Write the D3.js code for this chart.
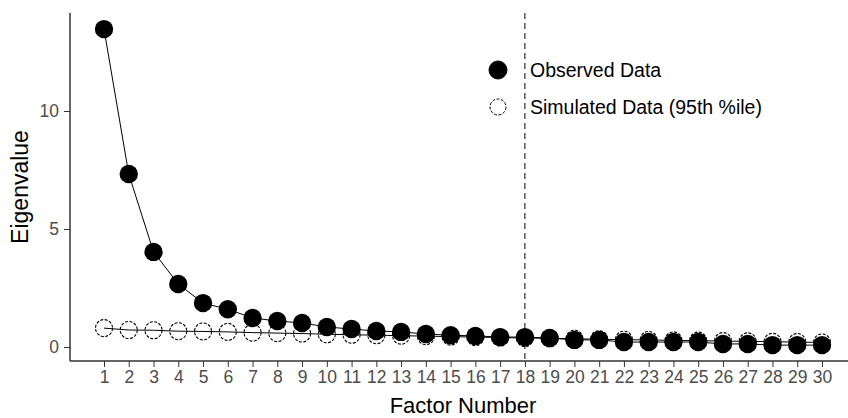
<!DOCTYPE html>
<html>
<head>
<meta charset="utf-8">
<script src="https://cdn.jsdelivr.net/npm/d3@7"></script>
<style>
  body { margin: 0; background: #fff; }
  svg { font-family: "Liberation Sans", Arial, sans-serif; }
</style>
</head>
<body>
<svg id="chart" width="848" height="418"></svg>
<script>
const factors = d3.range(1, 31);
const observed = [13.47, 7.33, 4.03, 2.67, 1.86, 1.6, 1.23, 1.1, 1.02, 0.85,
  0.76, 0.68, 0.64, 0.55, 0.5, 0.47, 0.42, 0.42, 0.38, 0.3,
  0.3, 0.21, 0.21, 0.21, 0.21, 0.13, 0.13, 0.08, 0.08, 0.08];
const simulated = [0.8, 0.72, 0.71, 0.67, 0.66, 0.64, 0.61, 0.59, 0.57, 0.54,
  0.52, 0.5, 0.48, 0.46, 0.44, 0.42, 0.4, 0.38, 0.37, 0.35,
  0.33, 0.31, 0.3, 0.28, 0.27, 0.25, 0.24, 0.22, 0.21, 0.19];
const yTicks = [0, 5, 10];
const cutoff = 18;
const legendLabels = ["Observed Data", "Simulated Data (95th %ile)"];

const svg = d3.select("#chart");
const plotL = 70, plotR = 848, plotT = 13, plotB = 361;

const x = d3.scaleLinear().domain([1, 30]).range([104, 822]);
const y = d3.scaleLinear().domain([0, 10]).range([347, 111]);

// axes
const xAxis = svg.append("g")
  .attr("transform", `translate(0,${plotB})`)
  .call(d3.axisBottom(x).tickValues(factors).tickSize(6).tickPadding(4).tickSizeOuter(0));
xAxis.select(".domain").remove();
svg.append("line").attr("x1", plotL).attr("x2", plotR).attr("y1", plotB).attr("y2", plotB)
  .attr("stroke", "#333").attr("stroke-width", 1.5);

const yAxis = svg.append("g")
  .attr("transform", `translate(${plotL},0)`)
  .call(d3.axisLeft(y).tickValues(yTicks).tickSize(6).tickPadding(5));
yAxis.select(".domain").remove();
svg.append("line").attr("x1", plotL).attr("x2", plotL).attr("y1", plotT).attr("y2", plotB)
  .attr("stroke", "#333").attr("stroke-width", 1.5);

svg.selectAll(".tick line").attr("stroke", "#333");
svg.selectAll(".tick text").attr("fill", "#4d4d4d").style("font-size", "17.5px");

// cutoff line
svg.append("line")
  .attr("x1", x(cutoff)).attr("x2", x(cutoff))
  .attr("y1", plotT).attr("y2", plotB)
  .attr("stroke", "#000").attr("stroke-dasharray", "6,4");

const line = d3.line().x((d, i) => x(factors[i])).y(d => y(d));

// simulated series
svg.append("path").datum(simulated).attr("d", line)
  .attr("fill", "none").attr("stroke", "#000").attr("stroke-width", 1);
svg.selectAll(".sim").data(simulated).join("circle")
  .attr("cx", (d, i) => x(factors[i])).attr("cy", d => y(d)).attr("r", 8.5)
  .attr("fill", "none").attr("stroke", "#000").attr("stroke-width", 1.1)
  .attr("stroke-dasharray", "3,1.5");

// observed series
svg.append("path").datum(observed).attr("d", line)
  .attr("fill", "none").attr("stroke", "#000").attr("stroke-width", 1);
svg.selectAll(".obs").data(observed).join("circle")
  .attr("cx", (d, i) => x(factors[i])).attr("cy", d => y(d)).attr("r", 9.2)
  .attr("fill", "#000");

// legend
const legend = svg.append("g");
legendLabels.forEach((lab, i) => {
  const ly = 70 + i * 37;
  legend.append("circle").attr("cx", 498).attr("cy", ly).attr("r", i === 0 ? 9 : 8)
    .attr("fill", i === 0 ? "#000" : "none").attr("stroke", "#000")
    .attr("stroke-dasharray", i === 0 ? null : "3,1.5");
  legend.append("text").attr("x", 530).attr("y", ly + 7)
    .style("font-size", "19.5px").attr("fill", "#000").text(lab);
});

// axis titles
svg.append("text").attr("x", 463).attr("y", 413)
  .attr("text-anchor", "middle").style("font-size", "22px").text("Factor Number");
svg.append("text").attr("transform", `translate(28,187) rotate(-90)`)
  .attr("text-anchor", "middle").style("font-size", "23px").text("Eigenvalue");
</script>
</body>
</html>
